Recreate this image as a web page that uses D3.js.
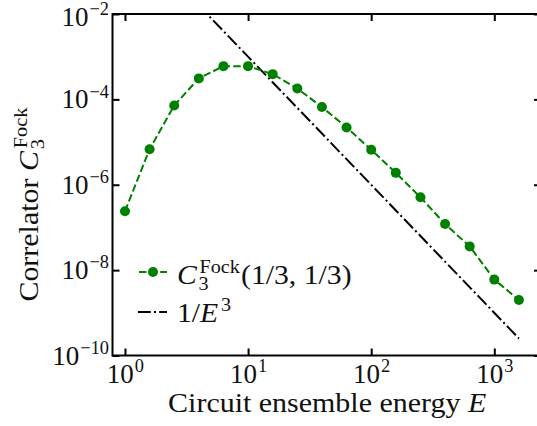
<!DOCTYPE html>
<html>
<head>
<meta charset="utf-8">
<script src="https://cdn.jsdelivr.net/npm/d3@7"></script>
<style>
  body { margin: 0; background: #fff; }
  text { font-family: "Liberation Serif", "DejaVu Serif", serif; fill: #111; white-space: pre; }
</style>
</head>
<body>
<div id="chart"></div>
<script>
// data
const energies = [1, 1.585, 2.512, 3.981, 6.31, 10, 15.85, 25.12, 39.81, 63.1, 100, 158.5, 251.2, 398.1, 631, 1000, 1585];
const correlator = [2.4e-7, 6.8e-6, 7.2e-5, 3.1e-4, 6.0e-4, 6.0e-4, 3.9e-4, 1.8e-4, 6.6e-5, 2.2e-5, 6.6e-6, 1.9e-6, 5.1e-7, 1.2e-7, 3.6e-8, 6.0e-9, 2.0e-9];
// 1/E^3 reference line
const fitEnergies = [1, 1585];
const fitValues = [1, 2.51e-10];
const xTicks = [1, 10, 100, 1000];
const xTickExp = ["0", "1", "2", "3"];
const yTicks = [1e-2, 1e-4, 1e-6, 1e-8, 1e-10];
const yTickExp = ["\u22122", "\u22124", "\u22126", "\u22128", "\u221210"];

const width = 537, height = 426;
const mLeft = 112.5, mRight = 541, mTop = 14, mBottom = 355.5;
const fs = 27;

const svg = d3.select("#chart").append("svg")
  .attr("width", width).attr("height", height);

const x = d3.scaleLog().domain([0.792, 2395]).range([mLeft, mRight]);
const y = d3.scaleLog().domain([1e-10, 1e-2]).range([mBottom, mTop]);

// small helper for math-ish labels: pieces of text, sub/superscripts
// sx stretches it a bit so Liberation Serif gets closer to the wide TeX font
function mathLabel(parent, parts, size, sx = 1) {
  const outer = parent.append("g");
  const g = outer.append("g").attr("transform", `scale(${sx},1)`);
  let cx = 0;
  parts.forEach(p => {
    if (p.t !== undefined) {
      const t = g.append("text").attr("x", cx).attr("y", 0)
        .style("font-size", size + "px")
        .style("font-style", p.it ? "italic" : "normal")
        .text(p.t);
      cx += t.node().getComputedTextLength() + (p.it ? 1.5 : 0);
    } else {
      let w = 0;
      if (p.sup) {
        const t = g.append("text").attr("x", cx + 1).attr("y", -size * 0.4)
          .style("font-size", size * 0.68 + "px").text(p.sup);
        w = Math.max(w, t.node().getComputedTextLength());
      }
      if (p.sub) {
        const t = g.append("text").attr("x", cx).attr("y", size * 0.24)
          .style("font-size", size * 0.68 + "px").text(p.sub);
        w = Math.max(w, t.node().getComputedTextLength());
      }
      cx += w + 2;
    }
  });
  return { g: outer, w: cx * sx };
}

svg.append("clipPath").attr("id", "clip")
  .append("rect").attr("x", mLeft).attr("y", mTop)
  .attr("width", mRight - mLeft).attr("height", mBottom - mTop);

const plot = svg.append("g").attr("clip-path", "url(#clip)");

const line = d3.line().x(d => x(d[0])).y(d => y(d[1]));

plot.append("path")
  .datum(d3.zip(fitEnergies, fitValues))
  .attr("d", line)
  .attr("fill", "none").attr("stroke", "#000")
  .attr("stroke-width", 2).attr("stroke-dasharray", "12.8,3.2,2,3.2");

plot.append("path")
  .datum(d3.zip(energies, correlator))
  .attr("d", line)
  .attr("fill", "none").attr("stroke", "#008000")
  .attr("stroke-width", 2).attr("stroke-dasharray", "7.4,3.2");

plot.selectAll("circle.pt")
  .data(d3.zip(energies, correlator))
  .join("circle").attr("class", "pt")
  .attr("cx", d => x(d[0])).attr("cy", d => y(d[1]))
  .attr("r", 5).attr("fill", "#008000");

// ticks (inward) via d3 axes
const tl = 7;
svg.append("g").attr("transform", `translate(0,${mBottom})`)
  .call(d3.axisBottom(x).tickValues(xTicks).tickSize(-tl).tickFormat(""));
svg.append("g").attr("transform", `translate(0,${mTop})`)
  .call(d3.axisTop(x).tickValues(xTicks).tickSize(-tl).tickFormat(""));
svg.append("g").attr("transform", `translate(${mLeft},0)`)
  .call(d3.axisLeft(y).tickValues(yTicks).tickSize(-tl).tickFormat(""));
svg.append("g").attr("transform", `translate(${mRight},0)`)
  .call(d3.axisRight(y).tickValues(yTicks).tickSize(-tl).tickFormat(""));
svg.selectAll(".domain").remove();
svg.selectAll(".tick line").attr("stroke", "#000").attr("stroke-width", 2);

// spines
svg.append("rect").attr("x", mLeft).attr("y", mTop)
  .attr("width", mRight - mLeft).attr("height", mBottom - mTop)
  .attr("fill", "none").attr("stroke", "#000").attr("stroke-width", 2);

// tick labels
xTicks.forEach((v, i) => {
  const m = mathLabel(svg, [{ t: "10" }, { sup: xTickExp[i] }], fs);
  m.g.attr("transform", `translate(${x(v) - m.w / 2 + 1},383)`);
});
yTicks.forEach((v, i) => {
  const m = mathLabel(svg, [{ t: "10" }, { sup: yTickExp[i] }], fs);
  m.g.attr("transform", `translate(${110 - m.w},${y(v) + (i === 0 ? 12 : 9)})`);
});

// axis titles
const xl = mathLabel(svg, [{ t: "Circuit ensemble energy " }, { t: "E", it: true }], fs, 1.11);
xl.g.attr("transform", `translate(${328 - xl.w / 2},412)`);

const yl = mathLabel(svg, [{ t: "Correlator " }, { t: "C", it: true }, { sub: "3", sup: "Fock" }], fs, 1.11);
yl.g.attr("transform", `translate(38,${204 + yl.w / 2}) rotate(-90)`);

// legend
const lg = svg.append("g");
lg.append("line").attr("x1", 138).attr("x2", 167).attr("y1", 272).attr("y2", 272)
  .attr("stroke", "#008000").attr("stroke-width", 2).attr("stroke-dasharray", "7.4,3.2")
  .attr("stroke-dashoffset", -1);
lg.append("circle").attr("cx", 153).attr("cy", 272).attr("r", 5).attr("fill", "#008000");
lg.append("line").attr("x1", 138).attr("x2", 167).attr("y1", 312).attr("y2", 312)
  .attr("stroke", "#000").attr("stroke-width", 2).attr("stroke-dasharray", "12.8,3.2,2,3.2");

const l1 = mathLabel(lg, [{ t: "C", it: true }, { sub: "3", sup: "Fock" }, { t: "(1/3, 1/3)" }], fs, 1.1);
l1.g.attr("transform", "translate(177,284)");
const l2 = mathLabel(lg, [{ t: "1/" }, { t: "E", it: true }, { sup: "3" }], fs, 1.1);
l2.g.attr("transform", "translate(177,322)");
</script>
</body>
</html>
